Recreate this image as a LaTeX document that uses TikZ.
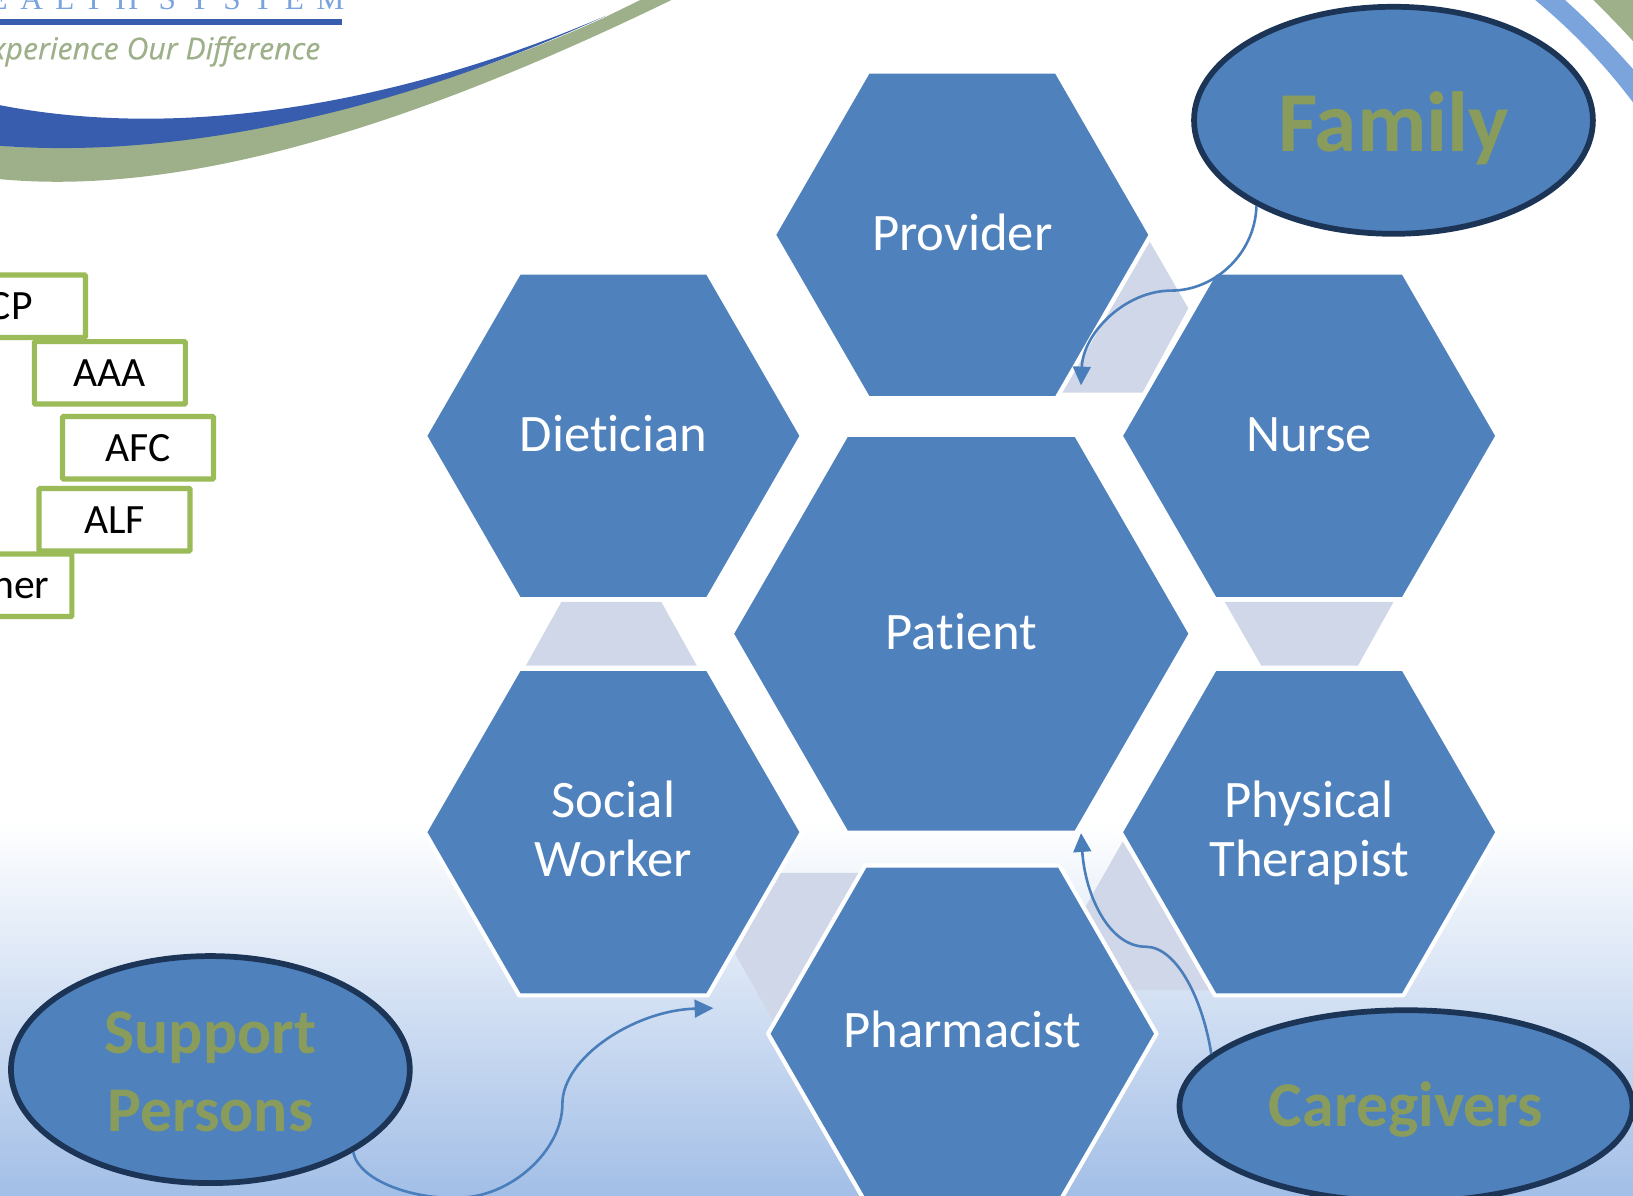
\documentclass[tikz,border=0pt]{standalone}
\usepackage{fontspec}
\setmainfont[Ligatures=NoCommon]{Carlito}
\newfontfamily\logofont[LetterSpace=40]{Liberation Serif}
\newfontfamily\tagfont[FakeBold=0.4]{Open Sans}
\usetikzlibrary{shapes.geometric,arrows.meta}
\definecolor{hexblue}{HTML}{4F81BD}
\definecolor{linkgray}{HTML}{D0D7E8}
\definecolor{ringnavy}{HTML}{1C3557}
\definecolor{olivetext}{HTML}{8A9C5C}
\definecolor{boxgreen}{HTML}{9BBB59}
\definecolor{arrowblue}{HTML}{4A7EBB}
\definecolor{swooshblue}{HTML}{385DAE}
\definecolor{swooshgreen}{HTML}{9DB08A}
\definecolor{skyblue}{HTML}{7BA3DC}
\tikzset{
  hexcell/.style={regular polygon, regular polygon sides=6, minimum size=181pt, inner sep=0pt,
    fill=hexblue, draw=white, line width=2pt, line join=round, text=white, align=center,
    text height=15pt, text depth=0pt, font=\fontsize{25.3}{28.5}\selectfont},
  twolines/.style={text height=43pt, text depth=0pt},
  ringnode/.style={ellipse, inner sep=0pt, fill=hexblue, draw=ringnavy, line width=2.75pt,
    text=olivetext, align=center, font=\bfseries},
  listbox/.style={rectangle, inner sep=0pt, minimum height=30pt, fill=white, draw=boxgreen,
    line width=2.5pt, rounded corners=0.5pt, text height=13pt, text depth=0pt,
    font=\fontsize{20}{24}\selectfont},
  linkshape/.style={fill=linkgray},
  linkarrow/.style={draw=arrowblue, line width=1.25pt, -{Triangle[length=9pt,width=8.5pt,fill=arrowblue]}}
}
\begin{document}
\begin{tikzpicture}[x=0.5pt,y=-0.5pt]
  \clip (0,0) rectangle (1568,1148);
  \shade[top color=white, middle color=white!50!hexblue!20!white, bottom color=skyblue!70!white] (0,790) rectangle (1568,1148);

  \fill[swooshgreen] (0,140) .. controls (200,150) and (420,90) .. (580,17) -- (625,-5) -- (655,-5)
    .. controls (420,110) and (190,190) .. (0,172) -- cycle;
  \fill[swooshblue] (0,101) .. controls (200,140) and (420,85) .. (582,15)
    .. controls (420,90) and (200,155) .. (0,140) -- cycle;
  \fill[skyblue] (1468,-5) .. controls (1505,25) and (1540,60) .. (1573,105) -- (1573,72) .. controls (1545,40) and (1520,15) .. (1497,-5) -- cycle;
  \fill[swooshgreen] (1525,-5) .. controls (1540,10) and (1555,25) .. (1573,45) -- (1573,-5) -- cycle;
  \fill[swooshblue] (-5,18) rectangle (328,24);
  \node[anchor=base east, inner sep=0pt, text=skyblue, font=\logofont\fontsize{15}{18}\selectfont] (logoname) at (331,9) {HEALTH SYSTEM};
  \node[anchor=base east, inner sep=0pt, text=swooshgreen, font=\tagfont\itshape\fontsize{14.5}{18}\selectfont] (logotag) at (308,57) {Experience Our Difference};

  \node[listbox, minimum width=82pt] (pcp) at (0,294) {PCP};
  \node[listbox, minimum width=72.5pt] (aaa) at (105.5,358) {AAA};
  \node[listbox, minimum width=72.5pt] (afc) at (132.5,430) {AFC};
  \node[listbox, minimum width=69pt] (other) at (0,562) {Other};
  \node[listbox, minimum width=72.5pt] (alf) at (110,499) {ALF};

  \fill[linkshape] (1104,232) -- (1141,296) -- (1097,377) -- (1020,377) -- cycle;
  \fill[linkshape] (539,578) -- (635,578) -- (669,639) -- (505,639) -- cycle;
  \fill[linkshape] (1176,578) -- (1338,578) -- (1304,639) -- (1211,639) -- cycle;
  \fill[linkshape] (747,838) -- (829,838) -- (745,985) -- (706,916) -- cycle;
  \fill[linkshape] (1078,808) -- (1041,873) -- (1087,951) -- (1165,951) -- cycle;

  \node[hexcell] (provider) at (924,225.5) {Provider};
  \node[hexcell] (dietician) at (589,418.5) {Dietician};
  \node[hexcell] (nurse) at (1257,418.5) {Nurse};
  \node[hexcell, minimum size=220.5pt] (patient) at (923,608.5) {Patient};
  \node[hexcell, twolines] (socialworker) at (589,799) {Social\\Worker};
  \node[hexcell, twolines] (therapist) at (1257,799) {Physical\\Therapist};
  \node[hexcell, text height=13pt] (pharmacist) at (924,992.5) {Pharmacist};

  \node[ringnode, minimum width=191.5pt, minimum height=109pt, text height=30pt, text depth=0pt, font=\bfseries\fontsize{41}{44}\selectfont] (family) at (1338,115.5) {Family};
  \node[ringnode, minimum width=191.5pt, minimum height=109pt, text height=59pt, text depth=0pt, font=\bfseries\fontsize{30.6}{37}\selectfont] (support) at (202,1027) {Support\\Persons};
  \node[ringnode, minimum width=217.5pt, minimum height=92pt, text height=20pt, text depth=0pt, font=\bfseries\fontsize{30.6}{36}\selectfont] (caregivers) at (1350,1062) {Caregivers};

  \coordinate (familytip) at (1038,370);
  \coordinate (supporttip) at (685,968);
  \coordinate (caregiverstip) at (1038,800);

  \draw[linkarrow] (family.212) .. controls (1205,245) and (1165,279) .. (1125,279)
    .. controls (1080,279) and (1040,320) .. (familytip);
  \draw[linkarrow] (support.330) .. controls (345,1135) and (400,1152) .. (440,1150)
    .. controls (490,1150) and (540,1105) .. (540,1060)
    .. controls (540,1015) and (610,970) .. (supporttip);
  \draw[linkarrow] (caregivers.165) .. controls (1155,960) and (1130,909) .. (1100,909)
    .. controls (1065,909) and (1042,860) .. (caregiverstip);
\end{tikzpicture}
\end{document}
